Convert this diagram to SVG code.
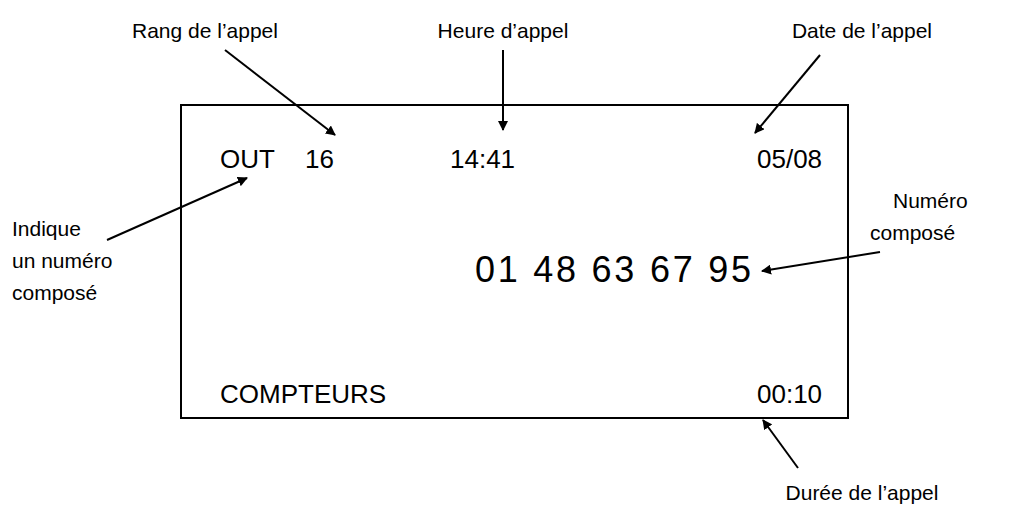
<svg xmlns="http://www.w3.org/2000/svg" width="1009" height="518" viewBox="0 0 1009 518">
<defs>
<marker id="ah" markerWidth="10" markerHeight="10" refX="9" refY="5" orient="auto" markerUnits="userSpaceOnUse" viewBox="0 0 10 10">
<path d="M0,0 L10,5 L0,10 z" fill="#000"/>
</marker>
<style>
text{font-family:"Liberation Sans",Arial,sans-serif;fill:#000}
.l{font-size:21px}
.d{font-size:26px}
.a{stroke:#000;stroke-width:2;fill:none;marker-end:url(#ah)}
</style>
</defs>
<rect width="1009" height="518" fill="#fff"/>
<g id="screen">
<rect x="181" y="105" width="667" height="313" fill="none" stroke="#000" stroke-width="2"/>
<text class="d" x="220" y="168">OUT</text>
<text class="d" x="305" y="168">16</text>
<text class="d" x="450" y="168">14:41</text>
<text class="d" x="757" y="168">05/08</text>
<text x="475" y="282" style="font-size:36px" textLength="276" lengthAdjust="spacing">01 48 63 67 95</text>
<text class="d" x="220" y="403">COMPTEURS</text>
<text class="d" x="757" y="403">00:10</text>
</g>
<g id="labels">
<text class="l" x="205" y="38" text-anchor="middle">Rang de l’appel</text>
<text class="l" x="503" y="38" text-anchor="middle">Heure d’appel</text>
<text class="l" x="862" y="38" text-anchor="middle">Date de l’appel</text>
<text class="l" x="12" y="236">Indique</text>
<text class="l" x="12" y="268">un numéro</text>
<text class="l" x="12" y="300">composé</text>
<text class="l" x="893" y="208">Numéro</text>
<text class="l" x="870" y="240">composé</text>
<text class="l" x="862" y="500" text-anchor="middle">Durée de l’appel</text>
</g>
<g id="connectors">
<line class="a" x1="225" y1="50" x2="335" y2="135"/>
<line class="a" x1="503" y1="50" x2="503" y2="130"/>
<line class="a" x1="820" y1="55" x2="755" y2="133"/>
<line class="a" x1="107" y1="240" x2="247" y2="178"/>
<line class="a" x1="880" y1="252" x2="762" y2="271"/>
<line class="a" x1="798" y1="468" x2="763" y2="420"/>
</g>
</svg>
